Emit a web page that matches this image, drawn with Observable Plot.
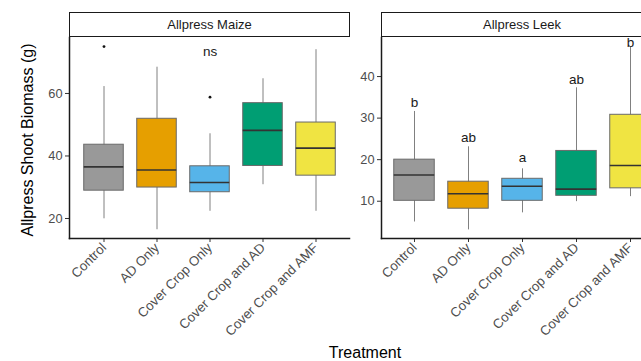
<!DOCTYPE html>
<html><head><meta charset="utf-8">
<script src="https://cdn.jsdelivr.net/npm/d3@7"></script>
<script src="https://cdn.jsdelivr.net/npm/@observablehq/plot@0.6"></script>
<style>
body{margin:0;background:#fff;font-family:"Liberation Sans",Arial,sans-serif}
#wrap{position:relative;width:641px;height:361px;overflow:hidden;background:#fff}
.plot{position:absolute;top:0}
.strip{position:absolute;top:12px;height:25px;border:1.5px solid #1a1a1a;box-sizing:border-box;background:#fff;
  font-size:13px;color:#1a1a1a;display:flex;align-items:center;justify-content:center;z-index:2}
#ytitle{position:absolute;left:28px;top:140px;transform:translate(-50%,-50%) rotate(-90deg);white-space:nowrap;font-size:16px;color:#000}
#xtitle{position:absolute;left:365px;top:353px;transform:translate(-50%,-50%);white-space:nowrap;font-size:16px;color:#000}
</style>
</head><body>
<div id="wrap">
  <div class="strip" style="left:69px;width:281px">Allpress Maize</div>
  <div class="strip" style="left:381px;width:300px"><span style="position:relative;left:-9px">Allpress Leek</span></div>
  <div id="ytitle">Allpress Shoot Biomass (g)</div>
  <div id="xtitle">Treatment</div>
</div>
<script>
const treatments = ["Control","AD Only","Cover Crop Only","Cover Crop and AD","Cover Crop and AMF"];
const fills = ["#999999","#E69F00","#56B4E9","#009E73","#F0E442"];

// Allpress Maize
const maizeLow  = [19.9, 16.4, 22.3, 30.8, 22.3];
const maizeQ1   = [28.9, 29.9, 28.4, 36.8, 33.7];
const maizeMed  = [36.5, 35.5, 31.5, 48.2, 42.5];
const maizeQ3   = [43.6, 51.9, 36.7, 56.9, 50.7];
const maizeHigh = [62.2, 68.4, 47.1, 64.7, 74.0];
const maizeOutT = ["Control","Cover Crop Only"];
const maizeOutV = [75.0, 58.8];
const maizeLabT = ["Cover Crop Only"];
const maizeLabTxt = ["ns"];
const maizeLabV = [73.5];
const maizeTicks = [20, 40, 60];

// Allpress Leek
const leekLow  = [5.0, 3.1, 7.2, 9.9, 11.1];
const leekQ1   = [10.1, 8.2, 10.1, 11.3, 13.1];
const leekMed  = [16.3, 11.8, 13.6, 12.9, 18.6];
const leekQ3   = [20.0, 14.7, 15.4, 22.1, 30.8];
const leekHigh = [31.6, 23.1, 17.8, 37.3, 47.0];
const leekOutT = [];
const leekOutV = [];
const leekLabT = treatments;
const leekLabTxt = ["b","ab","a","ab","b"];
const leekLabV = [33.8, 25.2, 20.6, 39.2, 48.2];
const leekTicks = [10, 20, 30, 40];

function rows(lo,q1,med,q3,hi){
  return treatments.map((t,i)=>({t, lo:lo[i], q1:q1[i], med:med[i], q3:q3[i], hi:hi[i]}));
}
function panel({data, outT, outV, labT, labTxt, labV, domain, ticks, width, marginLeft, marginRight}){
  const outs = outT.map((t,i)=>({t, v:outV[i]}));
  const labs = labT.map((t,i)=>({t, s:labTxt[i], v:labV[i]}));
  const step = (width - marginLeft - marginRight) / (treatments.length + 0.2);
  const inset = step * 0.125;
  return Plot.plot({
    width, height: 330, marginTop: 37, marginBottom: 92, marginLeft, marginRight,
    style: {fontFamily: '"Liberation Sans", Arial, sans-serif', fontSize: "13px", background: "transparent", overflow: "visible"},
    x: {domain: treatments, paddingInner: 0, paddingOuter: 0.1, axis: null},
    y: {domain, axis: null},
    color: {domain: treatments, range: fills},
    marks: [
      Plot.ruleX(data, {x: "t", y1: "lo", y2: "hi", stroke: "#808080", strokeWidth: 1}),
      Plot.barY(data, {x: "t", y1: "q1", y2: "q3", fill: "t", stroke: "#6a6a6a", strokeWidth: 1, insetLeft: inset, insetRight: inset}),
      Plot.tickY(data, {x: "t", y: "med", stroke: "#333333", strokeWidth: 1.6, insetLeft: inset, insetRight: inset}),
      Plot.dot(outs, {x: "t", y: "v", r: 1.4, fill: "#111", stroke: null}),
      Plot.text(labs, {x: "t", y: "v", text: "s", fill: "#1a1a1a", fontSize: 13.5}),
      Plot.axisY({ticks, tickSize: 4, tickPadding: 3, stroke: "#333", color: "#4d4d4d", fontSize: 12.8, label: null}),
      Plot.axisX({tickRotate: -45, tickSize: 4, tickPadding: 3, stroke: "#333", color: "#4d4d4d", fontSize: 13.3, label: null}),
      Plot.frame({anchor: "left", stroke: "#1a1a1a", strokeWidth: 1.5}),
      Plot.frame({anchor: "bottom", stroke: "#1a1a1a", strokeWidth: 1.5})
    ]
  });
}
const wrap = document.getElementById("wrap");
const left = panel({data: rows(maizeLow,maizeQ1,maizeMed,maizeQ3,maizeHigh), outT: maizeOutT, outV: maizeOutV,
  labT: maizeLabT, labTxt: maizeLabTxt, labV: maizeLabV, domain: [13.6, 77.9], ticks: maizeTicks,
  width: 360, marginLeft: 69, marginRight: 11});
left.classList.add("plot"); left.style.left = "0px";
const right = panel({data: rows(leekLow,leekQ1,leekMed,leekQ3,leekHigh), outT: leekOutT, outV: leekOutV,
  labT: leekLabT, labTxt: leekLabTxt, labV: leekLabV, domain: [1.03, 49.4], ticks: leekTicks,
  width: 320, marginLeft: 21, marginRight: 18});
right.classList.add("plot"); right.style.left = "360px";
wrap.appendChild(left);
wrap.appendChild(right);
</script>
</body></html>
